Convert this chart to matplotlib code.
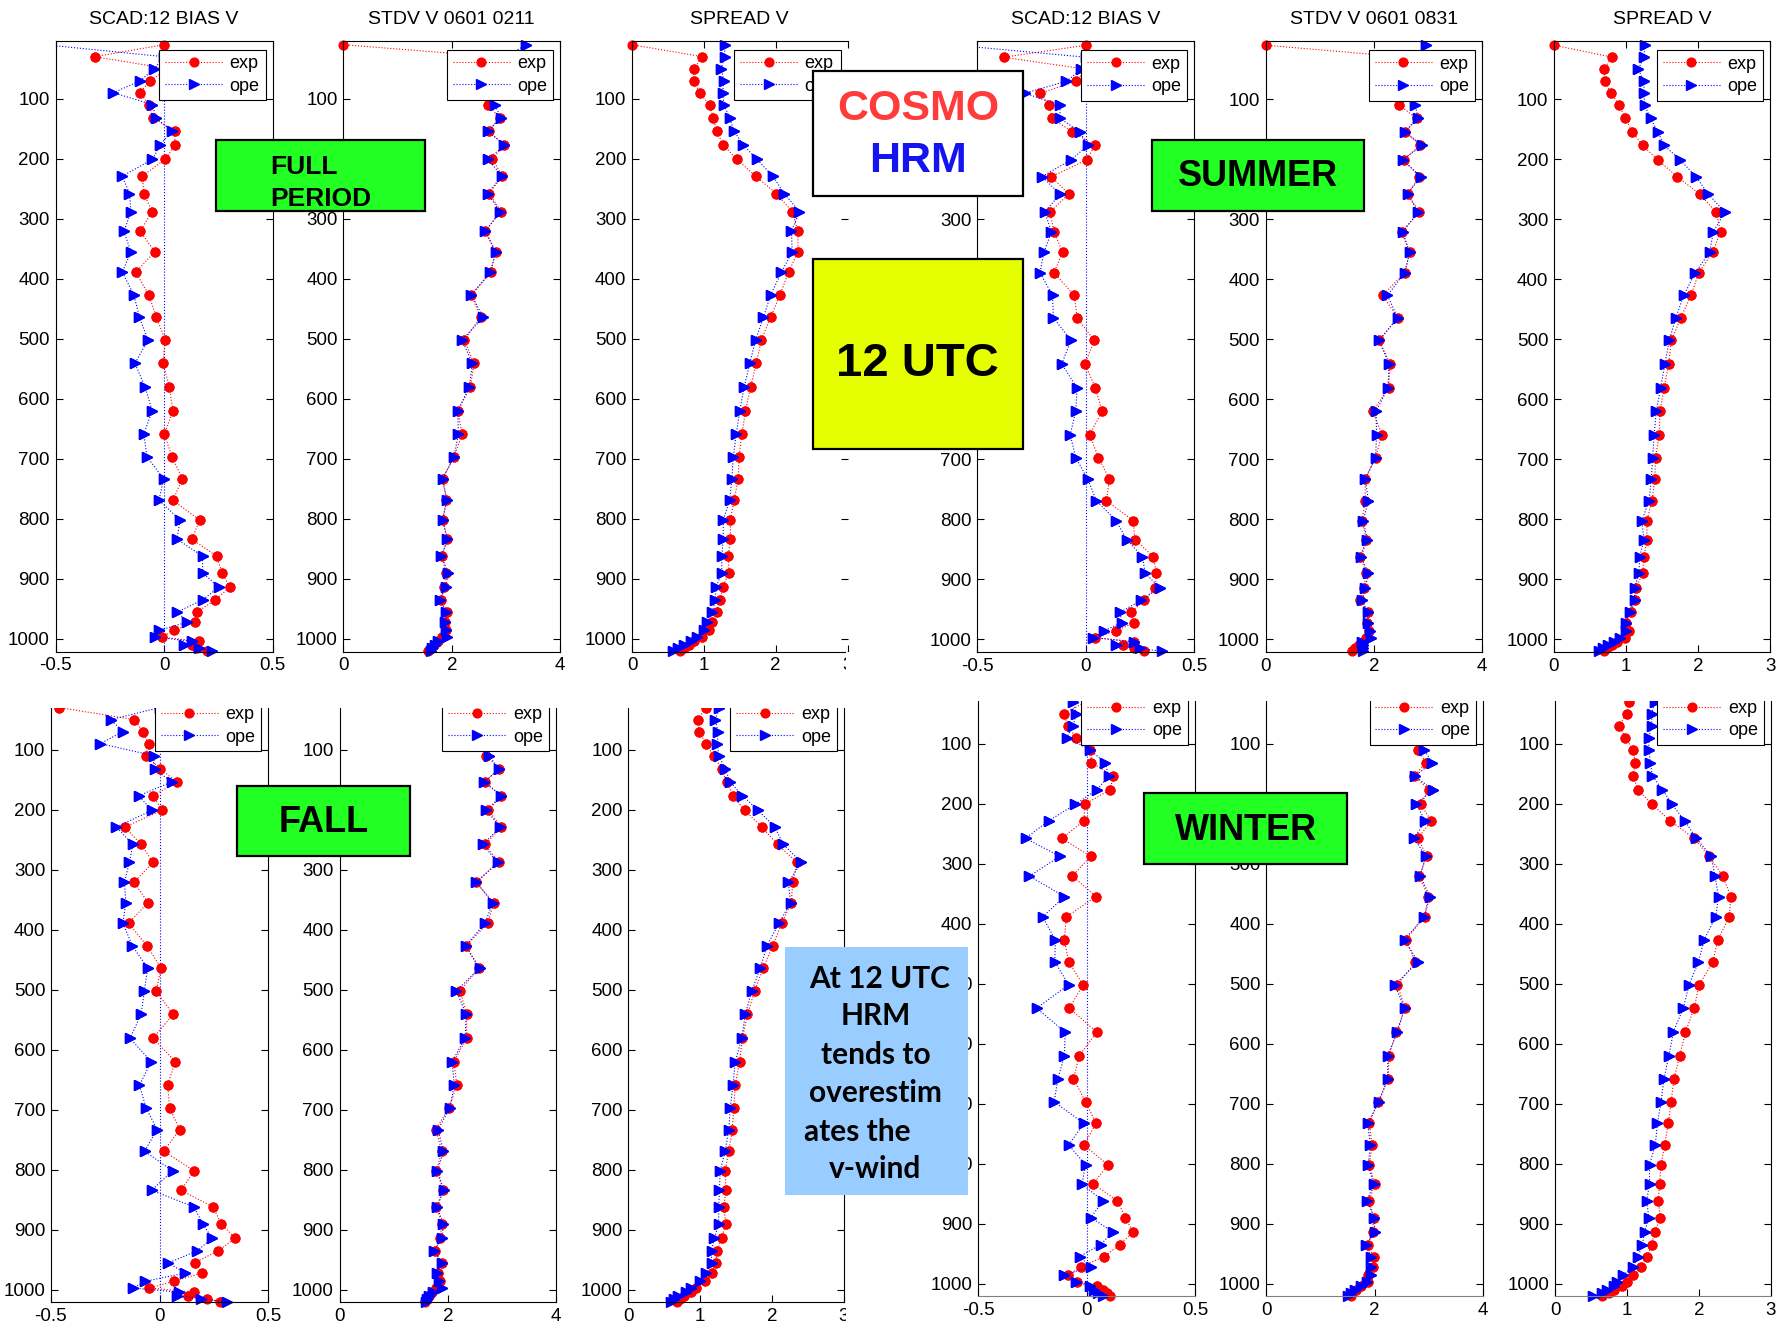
import numpy as np
import matplotlib
matplotlib.use('Agg')
import matplotlib.pyplot as plt
from matplotlib.patches import Rectangle

plt.rcParams['font.family'] = ['Liberation Sans', 'DejaVu Sans']

# --------------------------------------------
#           data
# --------------------------------------------
levels = [10, 30, 50, 70, 90, 110, 132, 154, 177, 201, 229, 258, 288, 321, 355,
          389, 427, 464, 502, 541, 581, 620, 659, 697, 733, 769, 802, 834, 862, 890,
          914, 935, 955, 972, 986, 997, 1004, 1010, 1015, 1020]

# full period
bias_full_exp = [0.0, -0.32, 0.02, -0.065, -0.11, -0.07, -0.05, 0.05, 0.05, 0.005,
                 -0.10, -0.093, -0.055, -0.11, -0.042, -0.13, -0.07, -0.035, 0.005, -0.004,
                 0.025, 0.041, 0.002, 0.037, 0.085, 0.041, 0.164, 0.129, 0.242, 0.268,
                 0.303, 0.236, 0.153, 0.143, 0.048, -0.011, 0.16, 0.13, 0.15, 0.20]
bias_full_ope = [-0.55, 0.0, -0.044, -0.109, -0.233, -0.053, -0.037, 0.037, -0.018, -0.053,
                 -0.192, -0.159, -0.152, -0.185, -0.152, -0.192, -0.139, -0.113, -0.074, -0.134,
                 -0.086, -0.055, -0.093, -0.078, -0.002, -0.023, 0.074, 0.06, 0.178, 0.178,
                 0.252, 0.178, 0.062, 0.108, -0.025, -0.04, 0.13, 0.09, 0.16, 0.22]
stdv_full_exp = [0.0, 2.8, 2.7, 2.65, 2.7, 2.67, 2.88, 2.68, 2.96, 2.75,
                 2.93, 2.69, 2.91, 2.61, 2.81, 2.72, 2.36, 2.53, 2.23, 2.41,
                 2.34, 2.11, 2.19, 2.04, 1.83, 1.90, 1.83, 1.92, 1.82, 1.89,
                 1.86, 1.80, 1.92, 1.88, 1.90, 1.82, 1.74, 1.68, 1.62, 1.57]
stdv_full_ope = [3.37, 3.0, 2.85, 2.75, 2.8, 2.79, 2.91, 2.66, 2.97, 2.67,
                 2.92, 2.66, 2.89, 2.62, 2.81, 2.71, 2.36, 2.58, 2.19, 2.38,
                 2.32, 2.11, 2.12, 2.04, 1.83, 1.91, 1.83, 1.92, 1.81, 1.93,
                 1.89, 1.78, 1.90, 1.88, 1.90, 1.91, 1.75, 1.69, 1.64, 1.61]
spread_full_exp = [0.0, 0.98, 0.86, 0.86, 0.94, 1.08, 1.13, 1.18, 1.27, 1.46,
                   1.72, 2.01, 2.23, 2.31, 2.31, 2.18, 2.06, 1.93, 1.80, 1.73,
                   1.65, 1.58, 1.53, 1.49, 1.48, 1.42, 1.37, 1.37, 1.34, 1.35,
                   1.26, 1.23, 1.18, 1.12, 1.07, 0.97, 0.87, 0.79, 0.72, 0.67]
spread_full_ope = [1.29, 1.29, 1.24, 1.28, 1.26, 1.28, 1.36, 1.42, 1.55, 1.74,
                   1.96, 2.12, 2.33, 2.22, 2.23, 2.08, 1.93, 1.83, 1.72, 1.64,
                   1.56, 1.50, 1.45, 1.41, 1.39, 1.36, 1.27, 1.27, 1.25, 1.25,
                   1.17, 1.16, 1.12, 1.05, 1.00, 0.90, 0.82, 0.72, 0.64, 0.57]

# summer
bias_sum_exp = [0.0, -0.377, 0.0, -0.044, -0.209, -0.168, -0.156, -0.063, 0.042, 0.004,
                -0.158, -0.079, -0.165, -0.146, -0.107, -0.146, -0.053, -0.04, 0.039, -0.004,
                0.044, 0.075, 0.018, 0.058, 0.109, 0.095, 0.218, 0.226, 0.311, 0.325,
                0.319, 0.27, 0.207, 0.223, 0.14, 0.044, 0.22, 0.17, 0.22, 0.27]
bias_sum_ope = [-0.6, 0.0, -0.02, -0.089, -0.281, -0.119, -0.119, -0.028, 0.009, -0.068,
                -0.202, -0.119, -0.189, -0.158, -0.193, -0.211, -0.153, -0.149, -0.068, -0.111,
                -0.04, -0.046, -0.072, -0.046, 0.009, 0.049, 0.139, 0.189, 0.26, 0.274,
                0.34, 0.253, 0.158, 0.165, 0.082, 0.035, 0.22, 0.14, 0.25, 0.35]
stdv_sum_exp = [0.0, 2.6, 2.5, 2.45, 2.45, 2.47, 2.79, 2.58, 2.85, 2.55,
                2.84, 2.62, 2.84, 2.51, 2.66, 2.57, 2.16, 2.44, 2.10, 2.30,
                2.27, 1.98, 2.15, 2.03, 1.84, 1.84, 1.78, 1.86, 1.75, 1.86,
                1.81, 1.75, 1.89, 1.88, 1.91, 1.85, 1.80, 1.73, 1.66, 1.60]
stdv_sum_ope = [2.96, 2.85, 2.75, 2.7, 2.75, 2.76, 2.82, 2.57, 2.89, 2.53,
                2.86, 2.62, 2.82, 2.53, 2.66, 2.57, 2.25, 2.44, 2.09, 2.28,
                2.26, 2.04, 2.05, 2.03, 1.84, 1.90, 1.80, 1.88, 1.76, 1.90,
                1.84, 1.78, 1.89, 1.89, 1.93, 1.95, 1.78, 1.79, 1.79, 1.79]
spread_sum_exp = [0.0, 0.81, 0.69, 0.71, 0.79, 0.91, 0.99, 1.09, 1.23, 1.44,
                  1.71, 2.02, 2.25, 2.31, 2.20, 2.01, 1.90, 1.76, 1.63, 1.59,
                  1.53, 1.47, 1.46, 1.41, 1.40, 1.36, 1.29, 1.29, 1.25, 1.23,
                  1.14, 1.13, 1.07, 1.00, 1.04, 0.98, 0.88, 0.80, 0.74, 0.69]
spread_sum_ope = [1.26, 1.25, 1.17, 1.25, 1.25, 1.26, 1.34, 1.44, 1.53, 1.75,
                  1.97, 2.14, 2.37, 2.21, 2.16, 1.96, 1.80, 1.69, 1.60, 1.54,
                  1.48, 1.42, 1.39, 1.37, 1.35, 1.32, 1.22, 1.25, 1.19, 1.18,
                  1.12, 1.12, 1.05, 1.00, 1.00, 0.92, 0.84, 0.75, 0.68, 0.63]

# fall
bias_fall_exp = [0.0, -0.461, -0.116, -0.077, -0.051, -0.063, 0.004, 0.079, -0.03, 0.011,
                 -0.16, -0.085, -0.03, -0.118, -0.053, -0.143, -0.058, 0.007, -0.016, 0.062,
                 -0.03, 0.072, 0.037, 0.046, 0.093, 0.018, 0.16, 0.097, 0.246, 0.283,
                 0.349, 0.269, 0.162, 0.194, 0.065, -0.048, 0.16, 0.13, 0.22, 0.28]
bias_fall_ope = [-0.6, 0.0, -0.224, -0.169, -0.273, -0.028, -0.023, 0.055, -0.097, -0.035,
                 -0.199, -0.123, -0.139, -0.162, -0.155, -0.169, -0.125, -0.055, -0.07, -0.085,
                 -0.136, -0.039, -0.093, -0.062, -0.012, -0.069, 0.06, -0.037, 0.158, 0.199,
                 0.241, 0.174, 0.04, 0.116, -0.067, -0.121, 0.09, 0.08, 0.19, 0.31]
stdv_fall_exp = [0.0, 2.8, 2.7, 2.7, 2.7, 2.71, 2.94, 2.69, 2.99, 2.75,
                 2.99, 2.69, 2.94, 2.52, 2.85, 2.74, 2.34, 2.57, 2.23, 2.35,
                 2.35, 2.11, 2.17, 2.02, 1.78, 1.89, 1.79, 1.92, 1.79, 1.89,
                 1.86, 1.77, 1.90, 1.82, 1.85, 1.78, 1.70, 1.65, 1.61, 1.58]
stdv_fall_ope = [3.3, 3.0, 2.9, 2.8, 2.8, 2.76, 2.95, 2.67, 2.99, 2.71,
                 2.97, 2.65, 2.92, 2.53, 2.83, 2.69, 2.33, 2.59, 2.16, 2.34,
                 2.32, 2.08, 2.12, 2.04, 1.82, 1.92, 1.81, 1.93, 1.80, 1.92,
                 1.89, 1.75, 1.89, 1.80, 1.84, 1.89, 1.73, 1.66, 1.61, 1.59]
spread_fall_exp = [0.0, 1.08, 0.97, 0.99, 1.08, 1.19, 1.30, 1.37, 1.46, 1.62,
                   1.86, 2.08, 2.35, 2.29, 2.27, 2.14, 2.01, 1.88, 1.76, 1.66,
                   1.59, 1.55, 1.49, 1.47, 1.45, 1.40, 1.35, 1.36, 1.33, 1.36,
                   1.30, 1.24, 1.22, 1.16, 1.07, 0.95, 0.87, 0.78, 0.72, 0.68]
spread_fall_ope = [1.3, 1.27, 1.21, 1.25, 1.24, 1.26, 1.35, 1.42, 1.59, 1.81,
                   2.04, 2.16, 2.41, 2.23, 2.26, 2.10, 1.93, 1.84, 1.72, 1.63,
                   1.58, 1.49, 1.46, 1.42, 1.40, 1.35, 1.28, 1.27, 1.26, 1.26,
                   1.20, 1.16, 1.16, 1.08, 1.00, 0.87, 0.81, 0.70, 0.64, 0.60]

# winter
bias_win_exp = [0.0, 0.0, -0.105, -0.086, -0.049, 0.018, 0.023, 0.123, 0.109, -0.007,
                -0.012, -0.114, 0.019, -0.065, 0.044, -0.093, -0.102, -0.082, -0.016, -0.079,
                0.047, -0.033, -0.06, -0.004, 0.044, -0.012, 0.098, 0.032, 0.142, 0.179,
                0.214, 0.153, 0.082, -0.026, -0.084, -0.044, 0.05, 0.075, 0.095, 0.11]
bias_win_ope = [-0.3, -0.061, -0.047, -0.061, -0.091, 0.014, 0.086, 0.102, 0.049, -0.051,
                -0.175, -0.281, -0.123, -0.263, -0.102, -0.202, -0.144, -0.146, -0.082, -0.23,
                -0.098, -0.102, -0.132, -0.149, -0.012, -0.082, -0.004, -0.021, 0.075, 0.021,
                0.121, 0.065, -0.032, 0.019, -0.105, -0.047, 0.015, 0.035, 0.055, 0.075]
stdv_win_exp = [0.0, 2.8, 2.7, 2.7, 2.75, 2.79, 2.95, 2.73, 3.00, 2.85,
                3.04, 2.80, 2.96, 2.82, 2.99, 2.92, 2.57, 2.75, 2.42, 2.56,
                2.40, 2.26, 2.25, 2.06, 1.90, 1.95, 1.90, 2.0, 1.90, 1.98,
                1.96, 1.88, 1.98, 1.96, 1.87, 1.88, 1.75, 1.65, 1.59, 1.57]
stdv_win_ope = [3.2, 3.0, 2.9, 2.85, 2.85, 2.91, 3.06, 2.74, 3.07, 2.77,
                2.93, 2.73, 2.94, 2.84, 3.02, 2.91, 2.55, 2.80, 2.37, 2.55,
                2.42, 2.24, 2.24, 2.08, 1.87, 1.92, 1.88, 1.98, 1.86, 1.99,
                2.0, 1.84, 1.93, 1.93, 1.93, 1.86, 1.74, 1.64, 1.56, 1.50]
spread_win_exp = [0.9, 1.03, 0.99, 0.89, 0.97, 1.08, 1.11, 1.08, 1.15, 1.34,
                  1.60, 1.93, 2.14, 2.33, 2.44, 2.42, 2.26, 2.19, 2.0, 1.93,
                  1.81, 1.73, 1.65, 1.61, 1.57, 1.52, 1.47, 1.45, 1.43, 1.46,
                  1.38, 1.34, 1.28, 1.19, 1.08, 0.99, 0.93, 0.82, 0.75, 0.65]
spread_win_ope = [1.4, 1.38, 1.34, 1.34, 1.30, 1.30, 1.32, 1.35, 1.49, 1.62,
                  1.80, 1.96, 2.17, 2.22, 2.27, 2.23, 2.07, 1.99, 1.86, 1.78,
                  1.64, 1.58, 1.51, 1.47, 1.42, 1.39, 1.31, 1.31, 1.27, 1.30,
                  1.24, 1.21, 1.15, 1.08, 0.94, 0.86, 0.82, 0.72, 0.65, 0.52]

titles = ['SCAD:12 BIAS V', 'STDV V 0601 0211', 'SPREAD V',
          'SCAD:12 BIAS V', 'STDV V 0601 0831', 'SPREAD V']

# --------------------------------------------
#           figure
# --------------------------------------------
W, H = 1776, 1326
fig = plt.figure(figsize=(W / 100, H / 100), dpi=100)
fig.patch.set_facecolor('white')

XLIM = {'bias': (-0.5, 0.5), 'stdv': (0, 4), 'spread': (0, 3)}
XTICKS = {'bias': [-0.5, 0, 0.5], 'stdv': [0, 2, 4], 'spread': [0, 1, 2, 3]}
XLABELS = {'bias': ['-0.5', '0', '0.5'], 'stdv': ['0', '2', '4'], 'spread': ['0', '1', '2', '3']}


def panel(x0, x1, y0, y1, kind, exp, ope, title=None, right_spine=True, grey_bottom=False):
    # pixel box (top-left origin) -> figure fraction
    ax = fig.add_axes([x0 / W, 1 - y1 / H, (x1 - x0) / W, (y1 - y0) / H])
    lo, hi = XLIM[kind]
    if kind == 'bias':
        ax.axvline(0, color='blue', ls=':', lw=0.8)
    l1, = ax.plot(exp, levels, color='red', ls=':', lw=0.8, marker='o', ms=6.3, mec='red')
    e = np.array(exp)
    ok = (e >= lo) & (e <= hi)
    ax.plot(e[ok], np.array(levels)[ok], ls='none', marker='o', ms=6.3, color='red', clip_on=False)
    l2, = ax.plot(ope, levels, color='blue', ls=':', lw=0.8, marker='>', ms=7.3, mec='blue')
    o = np.array(ope)
    ok = (o >= lo) & (o <= hi)
    ax.plot(o[ok], np.array(levels)[ok], ls='none', marker='>', ms=7.3, color='blue', clip_on=False)

    ax.set_xlim(lo, hi)
    ax.set_ylim(1021, 3)
    ax.set_xticks(XTICKS[kind])
    ax.set_xticklabels(XLABELS[kind])
    ax.set_yticks(range(100, 1001, 100))
    ax.tick_params(direction='in', top=True, right=True, length=5, width=0.8,
                   labelsize=13.5, pad=4)
    for s in ax.spines.values():
        s.set_linewidth(0.8)
    if not right_spine:
        ax.spines['right'].set_visible(False)
    if grey_bottom:
        ax.spines['bottom'].set_color('0.5')

    w, h = x1 - x0, y1 - y0
    leg = ax.legend([l1, l2], ['exp', 'ope'], loc='upper right',
                    bbox_to_anchor=(1 - 7 / w, 1 - 9 / h), borderaxespad=0,
                    fancybox=False, framealpha=1, edgecolor='black', fontsize=13,
                    handlelength=3.2, handletextpad=0.4, labelspacing=0.3,
                    borderpad=0.32, numpoints=1)
    leg.get_frame().set_linewidth(0.8)
    if title:
        fig.text((x0 + x1) / 2 / W, 1 - 19.5 / H, title, ha='center', va='center', fontsize=14)
    return ax


# top row: full period (left), summer (right)
panel(55.5, 272.5, 40.5, 651.5, 'bias', bias_full_exp, bias_full_ope, titles[0])
panel(343.3, 560.3, 40.5, 651.5, 'stdv', stdv_full_exp, stdv_full_ope, titles[1])
panel(632.0, 847.5, 40.5, 651.5, 'spread', spread_full_exp, spread_full_ope, titles[2],
      right_spine=False)
panel(977.2, 1194.4, 41.0, 652.0, 'bias', bias_sum_exp, bias_sum_ope, titles[3])
panel(1265.5, 1482.3, 41.0, 652.0, 'stdv', stdv_sum_exp, stdv_sum_ope, titles[4])
panel(1553.8, 1770.3, 41.0, 652.0, 'spread', spread_sum_exp, spread_sum_ope, titles[5])

# bottom row: fall (left), winter (right) - tops cropped in the slide
panel(50.9, 268.3, 691.4, 1302.4, 'bias', bias_fall_exp, bias_fall_ope)
panel(339.5, 556.0, 691.4, 1302.4, 'stdv', stdv_fall_exp, stdv_fall_ope)
panel(628.2, 843.7, 691.4, 1302.4, 'spread', spread_fall_exp, spread_fall_ope)
panel(978.0, 1195.0, 685.3, 1296.2, 'bias', bias_win_exp, bias_win_ope, grey_bottom=True)
panel(1266.3, 1483.1, 685.3, 1296.2, 'stdv', stdv_win_exp, stdv_win_ope, grey_bottom=True)
panel(1555.4, 1771.0, 685.3, 1296.2, 'spread', spread_win_exp, spread_win_ope, grey_bottom=True)


def rect(x0, y0, x1, y1, color, edge=True, z=20):
    r = Rectangle((x0 / W, 1 - y1 / H), (x1 - x0) / W, (y1 - y0) / H,
                  transform=fig.transFigure, facecolor=color,
                  edgecolor='black' if edge else 'none', lw=1.6, zorder=z)
    fig.add_artist(r)


def text(x, y, s, z=21, **kw):
    fig.text(x / W, 1 - y / H, s, ha=kw.pop('ha', 'center'), va='center', zorder=z, **kw)


# crop of the bottom pictures and of the cut "3" labels
rect(0, 677, 900, 708, 'white', edge=False, z=15)
rect(900, 677, W, 701.4, 'white', edge=False, z=15)
rect(846, 652, 885, 677, 'white', edge=False, z=15)
rect(846, 1303, 885, H, 'white', edge=False, z=15)

# ----------------- annotation boxes
rect(813.4, 70.7, 1022.8, 196.4, 'white')
text(918.3, 109.3, 'COSMO', color='#FF3B3B', fontsize=31, fontweight='bold')
text(917.5, 161.0, 'HRM', color='#1414F0', fontsize=31, fontweight='bold')

rect(813.4, 259.3, 1022.8, 448.8, '#E5FF00')
text(917.5, 364.3, '12 UTC', color='black', fontsize=34, fontweight='bold')

rect(215.5, 140.0, 424.8, 211.2, '#22FF22')
text(269.8, 167.0, 'FULL', ha='left', fontsize=19, fontweight='bold')
text(269.8, 198.6, 'PERIOD', ha='left', fontsize=19, fontweight='bold')

rect(1152.0, 140.0, 1364.4, 211.2, '#22FF22')
text(1258.0, 177.0, 'SUMMER', fontsize=26, fontweight='bold')

rect(236.9, 785.9, 410.3, 856.3, '#22FF22')
text(323.8, 823.0, 'FALL', fontsize=26, fontweight='bold')

rect(1144.0, 792.9, 1346.7, 863.8, '#22FF22')
text(1246.0, 830.3, 'WINTER', fontsize=26, fontweight='bold')

rect(784.7, 946.6, 967.7, 1194.6, '#99CCFF', edge=False)
note_lines = ['At 12 UTC', 'HRM', 'tends to', 'overestim', 'ates the', 'v-wind']
note_x = [879.7, 875.8, 875.5, 875.5, 857.0, 875.5]
note_y = [978.7, 1015.8, 1055.0, 1093.3, 1132.0, 1169.0]
for s, x, y in zip(note_lines, note_x, note_y):
    text(x, y, s, fontsize=21.5, fontweight='bold', family=['Lato', 'DejaVu Sans'])

fig.savefig('out.png', dpi=100)
